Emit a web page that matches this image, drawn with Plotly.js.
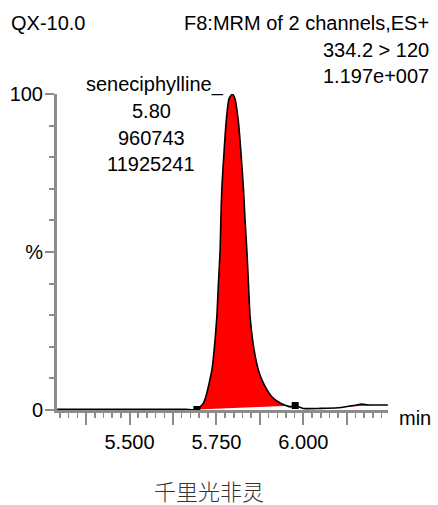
<!DOCTYPE html>
<html>
<head>
<meta charset="utf-8">
<script src="https://cdn.plot.ly/plotly-3.0.1.min.js"></script>
<style>html,body{margin:0;padding:0;background:#fff;}#chart{width:438px;height:505px;}</style>
</head>
<body>
<div id="chart"></div>
<script>
// ---- data ----
const chromRt = [5.292, 5.400, 5.500, 5.600, 5.660, 5.6937, 5.7032, 5.7126, 5.7195, 5.7290, 5.7368, 5.7434, 5.7511, 5.7557, 5.7606, 5.7626, 5.7655, 5.7713, 5.7779, 5.7865, 5.7960, 5.8030, 5.8132, 5.8210, 5.8276, 5.8325, 5.8374, 5.8420, 5.8468, 5.8583, 5.8707, 5.8851, 5.9092, 5.9330, 5.9618, 5.9765, 6.000, 6.050, 6.100, 6.130, 6.150, 6.168, 6.185, 6.200, 6.243];
const chromInt = [0.2, 0.2, 0.2, 0.2, 0.2, 0.16, 1.0, 2.2, 4.2, 8.5, 12.6, 19.0, 29.5, 40.1, 50.6, 59.7, 70.1, 80.7, 91.2, 98.6, 100, 98.6, 91.2, 80.7, 70.1, 59.7, 50.6, 40.1, 29.5, 19.0, 12.6, 8.5, 4.2, 2.2, 1.0, 1.42, 0.5, 0.5, 0.7, 1.2, 1.5, 1.9, 1.6, 1.6, 1.6];
const peakStart = 5.6937, peakEnd = 5.9765;
const bumpRt = [6.135, 6.150, 6.168, 6.185, 6.195];
const bumpInt = [1.1, 1.5, 1.9, 1.6, 1.4];
const markRt = [5.6937, 5.9765];
const markInt = [0.16, 1.42];
const xTickVals = [5.375, 5.5, 5.625, 5.75, 5.875, 6.0, 6.125];
const xTickText = ['', '5.500', '', '5.750', '', '6.000', ''];
const yTickVals = [0, 50, 100];
const yTickText = ['0', '%', '100'];
const headerLeft = 'QX-10.0';
const headerRight = ['F8:MRM of 2 channels,ES+', '334.2 > 120', '1.197e+007'];
const peakLabel = ['seneciphylline', '5.80', '960743', '11925241'];
const caption = '千里光非灵';

// ---- build peak fill region from data ----
const peakX = [], peakY = [];
chromRt.forEach((t, i) => { if (t >= peakStart && t <= peakEnd) { peakX.push(t); peakY.push(chromInt[i]); } });

const W = 438, H = 505, L = 57, R = 50, T = 94, B = 95;
const pw = W - L - R, ph = H - T - B;
const px = v => (v - L) / pw;
const py = v => (H - B - v) / ph;
const FONT = 'Liberation Sans, Arial, sans-serif';
const GRAY = '#8c8c8c';
const FS = 20;

function ann(text, x, y, xanchor, size, extra) {
  return Object.assign({text: text, x: px(x), y: py(y), xref: 'paper', yref: 'paper',
    xanchor: xanchor, yanchor: 'middle', showarrow: false,
    font: {family: FONT, size: size || FS, color: '#000'}}, extra || {});
}

const traces = [
  {x: peakX, y: peakY, mode: 'lines', fill: 'toself', fillcolor: '#ff0000', line: {width: 0}, hoverinfo: 'skip'},
  {x: bumpRt, y: bumpInt, mode: 'lines', fill: 'toself', fillcolor: '#ff0000', line: {width: 0}, hoverinfo: 'skip'},
  {x: chromRt, y: chromInt, mode: 'lines', line: {color: '#000', width: 1.6, shape: 'spline', smoothing: 0.6}},
  {x: markRt, y: markInt, mode: 'markers', marker: {symbol: 'square', size: 7, color: '#000'}, cliponaxis: false}
];

const annotations = [
  ann(headerLeft, 9, 23.5, 'left'),
  ann(headerRight[0], 431, 23.5, 'right'),
  ann(headerRight[1], 431, 50, 'right'),
  ann(headerRight[2], 431, 76.5, 'right'),
  ann(peakLabel[0] + '_', 84, 84, 'left'),
  ann(peakLabel[1], 151, 111, 'center'),
  ann(peakLabel[2], 151, 137.5, 'center'),
  ann(peakLabel[3], 151, 164, 'center'),
  ann('min', 397, 418, 'left'),
  ann(caption, 209, 489.5, 'center', 22, {font: {family: 'Noto Sans CJK SC', size: 22, color: '#333', weight: 300}})
];

const layout = {
  width: W, height: H,
  margin: {l: L, r: R, t: T, b: B, pad: 0},
  paper_bgcolor: '#fff', plot_bgcolor: '#fff',
  showlegend: false,
  font: {family: FONT, size: FS, color: '#000'},
  xaxis: {
    range: [5.2914, 6.2434], showgrid: false, zeroline: false,
    showline: true, linecolor: GRAY, linewidth: 3,
    ticks: 'outside', tickmode: 'array', tickvals: xTickVals, ticktext: xTickText,
    ticklen: 12, tickwidth: 2, tickcolor: GRAY,
    tickfont: {family: FONT, size: FS, color: '#000'},
    minor: {tickmode: 'linear', tick0: 5.0, dtick: 0.025, ticks: 'outside', ticklen: 5, tickwidth: 1.5, tickcolor: GRAY, showgrid: false}
  },
  yaxis: {
    range: [0, 100], showgrid: false, zeroline: false,
    showline: true, linecolor: GRAY, linewidth: 3,
    ticks: 'outside', tickmode: 'array', tickvals: yTickVals, ticktext: yTickText,
    ticklen: 9, tickwidth: 2, tickcolor: GRAY, ticklabelstandoff: -2,
    tickfont: {family: FONT, size: FS, color: '#000'},
    minor: {tickmode: 'linear', tick0: 0, dtick: 10, ticks: 'outside', ticklen: 5, tickwidth: 2, tickcolor: GRAY, showgrid: false}
  },
  annotations: annotations
};

Plotly.newPlot('chart', traces, layout, {staticPlot: true, displayModeBar: false});
</script>
</body>
</html>
